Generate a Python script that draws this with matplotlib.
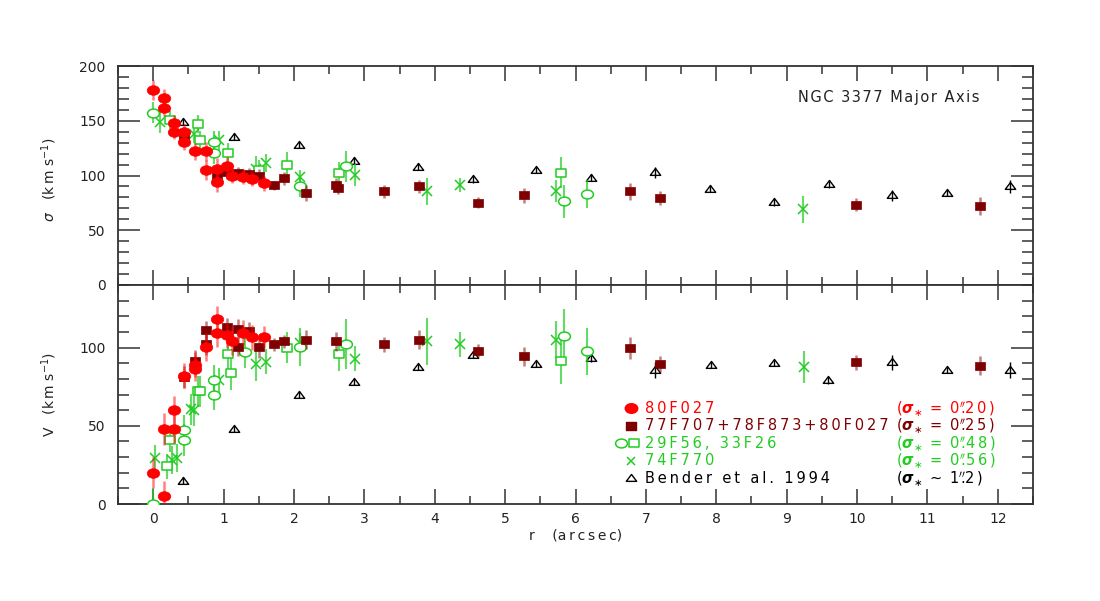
import numpy as np
import matplotlib
matplotlib.use("Agg")
import matplotlib.pyplot as plt
from matplotlib.path import Path

plt.rcParams['font.family'] = ['DejaVu Sans']
plt.rcParams['mathtext.fontset'] = 'dejavusans'

# ---------------- data: top panel (sigma) ----------------
red_x_s = [0.00, 0.15, 0.15, 0.29, 0.29, 0.44, 0.44, 0.60, 0.75, 0.75, 0.90, 0.90, 1.05, 1.12, 1.27, 1.41, 1.57]
red_s = [178, 171, 162, 148, 140, 140, 131, 122, 122, 105, 106, 94, 109, 100, 99, 97, 93]
red_se = [9, 8, 8, 7, 7, 7, 8, 8, 9, 9, 10, 9, 8, 7, 7, 7, 7]

dr_x_s = [0.44, 0.90, 1.05, 1.20, 1.36, 1.50, 1.71, 1.86, 2.17, 2.60, 2.62, 3.28, 3.77, 4.61, 5.27, 6.78, 7.20, 9.98, 11.74]
dr_s = [136, 100, 103, 102, 101, 100, 91, 97.5, 84, 91.5, 89, 85.5, 90, 75, 82, 85.5, 79.5, 73.5, 72]
dr_se = [6, 6, 6, 6, 6, 6, 4, 6, 7, 6, 6, 6, 6, 5, 7, 8, 6, 6, 8]

gc_x_s = [0.00, 0.87, 0.87, 2.08, 2.74, 5.83, 6.16]
gc_s = [157.5, 131, 120.5, 90, 108.5, 76.5, 83]
gc_se = [10, 10, 10, 10, 14, 15, 13]

gs_x_s = [0.24, 0.63, 0.67, 1.06, 1.51, 1.90, 2.64, 5.79]
gs_s = [150.5, 147, 132.5, 120.5, 105, 109.5, 102.5, 102.5]
gs_se = [8, 8, 8, 9, 9, 12, 10, 14]

gx_x_s = [0.10, 0.58, 0.93, 1.46, 1.60, 2.09, 2.87, 3.89, 4.36, 5.72, 9.23]
gx_s = [148.5, 138, 132, 106, 111.5, 99, 100.5, 85.5, 91, 85.5, 69]
gx_se = [10, 8, 9, 12, 8, 6, 10, 12.5, 6.5, 10, 12.5]

tri_x_s = [0.43, 1.15, 2.07, 2.85, 3.76, 4.54, 5.44, 6.22, 7.13, 7.91, 8.82, 9.60, 10.50, 11.28, 12.18]
tri_s = [149, 135.5, 128, 113.5, 108, 96.5, 105, 98, 103, 88, 75.5, 92, 82, 84, 90]
tri_se = [3, 3, 3, 3, 3, 3, 3, 3, 5, 3, 3, 3, 5, 3, 6]

# ---------------- data: bottom panel (V) ----------------
red_x_v = [0.00, 0.15, 0.15, 0.29, 0.29, 0.44, 0.60, 0.60, 0.75, 0.90, 0.90, 1.05, 1.12, 1.27, 1.41, 1.57]
red_v = [20, 5, 48, 48, 60, 82, 89, 86.5, 100.5, 118.5, 109.5, 108, 104, 109.5, 106.5, 107]
red_ve = [10, 10, 10, 9, 9, 8, 8, 8, 9, 8, 9, 8, 9, 8, 8, 7]

dr_x_v = [0.44, 0.60, 0.75, 0.75, 1.05, 1.20, 1.20, 1.36, 1.50, 1.71, 1.86, 2.17, 2.60, 3.28, 3.77, 4.61, 5.27, 6.78, 7.20, 9.98, 11.74]
dr_v = [81, 91.5, 102, 111, 113, 112, 100.5, 110.5, 100.5, 102, 104, 105, 104, 102, 105, 98, 94.5, 100, 89.5, 90.5, 88.5]
dr_ve = [7, 7, 7, 6, 6, 6, 6, 6, 7, 4, 4, 6, 6, 5, 6, 4, 6, 7, 5, 5, 6]

gc_x_v = [0.00, 0.44, 0.44, 0.87, 0.87, 1.30, 2.08, 2.74, 5.83, 6.16]
gc_v = [0, 47, 41, 79, 70, 97, 100.5, 102.5, 107.5, 97.5]
gc_ve = [10, 10, 10, 10, 10, 10, 12, 16, 17, 15]

gs_x_v = [0.20, 0.24, 0.63, 0.67, 1.06, 1.11, 1.90, 2.64, 5.79]
gs_v = [24, 41, 72, 72, 96, 84, 100, 96, 91.5]
gs_ve = [8, 8, 10, 10, 10, 11, 10, 11, 15]

gx_x_v = [0.03, 0.27, 0.34, 0.54, 0.58, 0.93, 1.46, 1.60, 2.09, 2.87, 3.89, 4.36, 5.72, 9.24]
gx_v = [29.5, 28, 29.5, 60.5, 60, 79, 89.5, 91, 103, 93, 104, 102, 105, 87.5]
gx_ve = [8, 9, 9, 10, 10, 8, 11, 8, 6, 8, 15, 8, 12, 10]

tri_x_v = [0.43, 1.15, 2.07, 2.85, 3.76, 4.54, 5.44, 6.22, 7.13, 7.92, 8.82, 9.59, 10.50, 11.28, 12.18]
tri_v = [15, 48, 70, 78, 87.5, 95.5, 89.5, 93.5, 85.5, 89, 90, 79, 90.5, 85.5, 85.5]
tri_ve = [2, 2, 2, 2, 2, 2, 2, 3, 5, 2, 2, 2, 5, 2, 5]

# ---------------- text ----------------
legend_names = ["80F027", "77F707+78F873+80F027", "29F56, 33F26", "74F770", "Bender et al. 1994"]
legend_vals = ["0.20", "0.25", "0.48", "0.56", "1.2"]
legend_ops = ["=", "=", "=", "=", "~"]
title_text = "NGC 3377 Major Axis"

THIN = '\u2009'
HAIR = '\u200a'


def spaced(s, sp):
    return sp.join(list(s))


def res_label(op, val):
    a, b = val.split('.')
    sym = r'$\boldsymbol{\sigma}_{\ast}$'
    if op == '=':
        mid = THIN + '=' + THIN + ' '
    else:
        mid = r'$\sim$' + ' '
    return '(' + sym + ' ' + mid + spaced(a, THIN) + r"$''\!\!$." + spaced(b, THIN) + THIN + ')'


# ---------------- styles ----------------
RED = '#ff0000'
DRED = '#7f0000'
GREEN = '#22cc22'
BLACK = '#000000'

circ = Path.unit_circle()
ellipse = Path(circ.vertices * np.array([1.0, 0.77]), circ.codes)
ellipse_g = Path(circ.vertices * np.array([1.0, 0.75]), circ.codes)
rect = Path([(-1, -0.8), (1, -0.8), (1, 0.8), (-1, 0.8), (-1, -0.8)],
            [Path.MOVETO, Path.LINETO, Path.LINETO, Path.LINETO, Path.CLOSEPOLY])
tri = Path([(-1, -0.55), (1, -0.55), (0, 0.78), (-1, -0.55)],
           [Path.MOVETO, Path.LINETO, Path.LINETO, Path.CLOSEPOLY])

fig = plt.figure(figsize=(11, 6.01), dpi=100)
L, R = 118 / 1100, 1033 / 1100
ax1 = fig.add_axes([L, 316 / 601, R - L, 219 / 601])
ax2 = fig.add_axes([L, 97 / 601, R - L, 219 / 601])


def panel(ax, d):
    (tx, ty, te), (gxx, gxy, gxe), (gsx, gsy, gse), (gcx, gcy, gce), (dx, dy, de), (rx, ry, re) = d
    ax.errorbar(tx, ty, yerr=te, fmt='none', ecolor=BLACK, elinewidth=1.0, capsize=0, zorder=2)
    ax.plot(tx, ty, linestyle='none', marker=tri, ms=7.5, mfc='none', mec=BLACK, mew=1.0, zorder=2.5)
    ax.errorbar(gxx, gxy, yerr=gxe, fmt='none', ecolor=GREEN, alpha=0.7, elinewidth=1.5, capsize=0, zorder=3)
    ax.plot(gxx, gxy, linestyle='none', marker='x', ms=7, mec=GREEN, mew=1.1, zorder=3.5)
    ax.errorbar(gsx, gsy, yerr=gse, fmt='none', ecolor=GREEN, alpha=0.7, elinewidth=1.5, capsize=0, zorder=3)
    ax.plot(gsx, gsy, linestyle='none', marker=rect, ms=7, mfc='white', mec=GREEN, mew=1.1, zorder=3.5)
    ax.errorbar(gcx, gcy, yerr=gce, fmt='none', ecolor=GREEN, alpha=0.7, elinewidth=1.5, capsize=0, zorder=3)
    ax.plot(gcx, gcy, linestyle='none', marker=ellipse_g, ms=8.5, mfc='white', mec=GREEN, mew=1.1, zorder=3.5)
    ax.errorbar(dx, dy, yerr=de, fmt='none', ecolor=DRED, alpha=0.5, elinewidth=1.8, capsize=0, zorder=4)
    ax.plot(dx, dy, linestyle='none', marker=rect, ms=7, mfc=DRED, mec=DRED, mew=0.5, zorder=4.5)
    ax.errorbar(rx, ry, yerr=re, fmt='none', ecolor=RED, alpha=0.5, elinewidth=1.8, capsize=0, zorder=5)
    ax.plot(rx, ry, linestyle='none', marker=ellipse, ms=9, mfc=RED, mec=RED, mew=0.5, zorder=5.5)


panel(ax1, [(tri_x_s, tri_s, tri_se), (gx_x_s, gx_s, gx_se), (gs_x_s, gs_s, gs_se),
            (gc_x_s, gc_s, gc_se), (dr_x_s, dr_s, dr_se), (red_x_s, red_s, red_se)])
panel(ax2, [(tri_x_v, tri_v, tri_ve), (gx_x_v, gx_v, gx_ve), (gs_x_v, gs_v, gs_ve),
            (gc_x_v, gc_v, gc_ve), (dr_x_v, dr_v, dr_ve), (red_x_v, red_v, red_ve)])

SP = '#333333'
for ax in (ax1, ax2):
    ax.set_xlim(-0.5, 12.5)
    ax.set_xticks(np.arange(0, 13, 1))
    ax.set_xticks(np.arange(-0.5, 12.6, 0.5), minor=True)
    for s in ax.spines.values():
        s.set_color(SP)
        s.set_linewidth(1.3)
    ax.tick_params(axis='x', which='major', direction='in', length=11, width=1.1,
                   top=True, bottom=True, color=SP, labelsize=10, pad=6, labelcolor='#222222')
    ax.tick_params(axis='x', which='minor', direction='in', length=6, width=1.1,
                   top=True, bottom=True, color=SP)
    ax.tick_params(axis='y', which='major', direction='in', length=16, width=1.1,
                   left=True, right=True, color=SP, labelsize=10, pad=9, labelcolor='#222222')
    ax.tick_params(axis='y', which='minor', direction='in', length=8, width=1.1,
                   left=True, right=True, color=SP)

ax1.set_ylim(0, 200)
ax1.set_yticks([0, 50, 100, 150, 200])
ax1.set_yticks(np.arange(0, 201, 10), minor=True)
ax1.tick_params(axis='x', labelbottom=False)

ax2.set_ylim(0, 140)
ax2.set_yticks([0, 50, 100])
ax2.set_yticks(np.arange(0, 141, 10), minor=True)

ylabel_top = r'$\sigma$' + '   (' + spaced('km', THIN) + ' s$^{-1}$)'
ylabel_bot = 'V   (' + spaced('km', THIN) + ' s$^{-1}$)'
ax1.set_ylabel(ylabel_top, fontsize=10, color='#222222')
ax1.yaxis.set_label_coords(-0.064, 0.48)
ax2.set_ylabel(ylabel_bot, fontsize=10, color='#222222')
ax2.yaxis.set_label_coords(-0.064, 0.5)
ax2.set_xlabel('r    (' + spaced('arcsec', THIN) + ')', fontsize=10, color='#222222')
ax2.xaxis.set_label_coords(0.5, -0.11)

ax1.text(0.7435, 0.856, spaced(title_text, HAIR), transform=ax1.transAxes, fontsize=10.5,
         ha='left', va='center', color='#222222')

# legend (manual)
rows_y = [0.437, 0.357, 0.277, 0.198, 0.118]
name_colors = [RED, DRED, GREEN, GREEN, BLACK]
res_colors = [RED, DRED, GREEN, GREEN, BLACK]
mx = 0.561
tx = 0.576
rx_ = 0.850
tr = ax2.transAxes
ax2.plot([mx], [rows_y[0]], transform=tr, marker=ellipse, ms=9, mfc=RED, mec=RED, ls='none', clip_on=False)
ax2.plot([mx], [rows_y[1]], transform=tr, marker=rect, ms=7, mfc=DRED, mec=DRED, ls='none', clip_on=False)
ax2.plot([0.5497], [rows_y[2]], transform=tr, marker=ellipse_g, ms=8.5, mfc='white', mec=GREEN, mew=1.1, ls='none', clip_on=False)
ax2.plot([0.5637], [rows_y[2]], transform=tr, marker=rect, ms=7, mfc='white', mec=GREEN, mew=1.1, ls='none', clip_on=False)
ax2.plot([mx], [rows_y[3]], transform=tr, marker='x', ms=6, mec=GREEN, mew=1.1, ls='none', clip_on=False)
ax2.plot([mx], [rows_y[4]], transform=tr, marker=tri, ms=7.5, mfc='none', mec=BLACK, mew=1.0, ls='none', clip_on=False)
for y, n, c in zip(rows_y, legend_names, name_colors):
    ax2.text(tx, y, spaced(n, THIN), transform=tr, color=c, fontsize=10.5, ha='left', va='center')
for y, op, v, c in zip(rows_y, legend_ops, legend_vals, res_colors):
    ax2.text(rx_, y, res_label(op, v), transform=tr, color=c, fontsize=10.5, ha='left', va='center')

fig.savefig("out.png", dpi=100)
